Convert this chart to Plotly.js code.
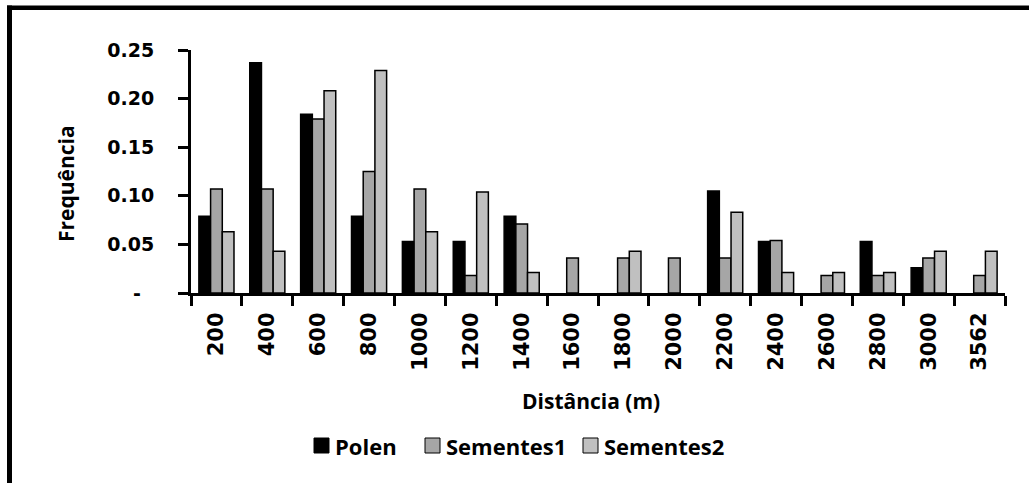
<!DOCTYPE html>
<html>
<head>
<meta charset="utf-8">
<script src="https://cdn.plot.ly/plotly-3.0.1.min.js"></script>
<style>
  html, body { margin: 0; padding: 0; background: #ffffff; }
  #chart { width: 1029px; height: 483px; }
</style>
</head>
<body>
<div id="chart"></div>
<script>
// Distance classes (m)
const categories = ['200', '400', '600', '800', '1000', '1200', '1400', '1600',
                    '1800', '2000', '2200', '2400', '2600', '2800', '3000', '3562'];

// Relative frequency per distance class
const polen      = [0.079, 0.237, 0.184, 0.079, 0.053, 0.053, 0.079, 0,
                    0, 0, 0.105, 0.053, 0, 0.053, 0.026, 0];
const sementes1  = [0.107, 0.107, 0.179, 0.125, 0.107, 0.018, 0.071, 0.036,
                    0.036, 0.036, 0.036, 0.054, 0.018, 0.018, 0.036, 0.018];
const sementes2  = [0.063, 0.043, 0.208, 0.229, 0.063, 0.104, 0.021, 0,
                    0.043, 0, 0.083, 0.021, 0.021, 0.021, 0.043, 0.043];

const seriesNames = ['Polen', 'Sementes1', 'Sementes2'];
const seriesColors = ['#000000', '#a6a6a6', '#c0c0c0'];

const yTickVals = [0, 0.05, 0.10, 0.15, 0.20, 0.25];
const yTickText = ['-\u00a0\u00a0', '0.05', '0.10', '0.15', '0.20', '0.25'];

// Figure geometry (pixels)
const W = 1029, H = 483;
const M = { l: 191, r: 24, t: 50, b: 190 };
const plotW = W - M.l - M.r;
const plotH = H - M.t - M.b;
const px = x => (x - M.l) / plotW;          // pixel x -> paper x
const py = y => (H - M.b - y) / plotH;      // pixel y -> paper y

const titleFont = { family: '"Open Sans", "DejaVu Sans", sans-serif', size: 21, color: '#000', weight: 'bold' };
const legendFont = { family: '"Open Sans", "DejaVu Sans", sans-serif', size: 22, color: '#000', weight: 'bold' };
const tickFontFamily = '"DejaVu Sans", Verdana, sans-serif';

const values = [polen, sementes1, sementes2];
const traces = values.map((v, i) => ({
  type: 'bar',
  name: seriesNames[i],
  x: categories,
  y: v,
  marker: {
    color: seriesColors[i],
    // empty classes get no outline so nothing shows on the axis
    line: { color: '#000', width: v.map(d => (d > 0 ? 1.5 : 0)) }
  },
  hoverinfo: 'x+y+name'
}));

// Legend drawn as boxed swatches with labels under the axis title
const legendBoxes = [314, 425, 583];
const legendText  = [333, 444, 602];
const legendY = 445.5, sw = 15;

const shapes = [
  // frame: top and left edges
  { type: 'line', xref: 'paper', yref: 'paper', x0: px(7), x1: px(1035), y0: py(7.75), y1: py(7.75),
    line: { color: '#000', width: 4.5 } },
  { type: 'line', xref: 'paper', yref: 'paper', x0: px(9.5), x1: px(9.5), y0: py(5.5), y1: py(490),
    line: { color: '#000', width: 5 } }
];
const annotations = [
  { text: 'Frequência', xref: 'paper', yref: 'paper', x: px(66), y: py(184),
    xanchor: 'center', yanchor: 'middle', textangle: -90, showarrow: false, font: titleFont },
  { text: 'Distância (m)', xref: 'paper', yref: 'paper', x: px(591), y: py(401),
    xanchor: 'center', yanchor: 'middle', showarrow: false, font: titleFont }
];
seriesNames.forEach((name, i) => {
  shapes.push({
    type: 'rect', xref: 'paper', yref: 'paper',
    x0: px(legendBoxes[i]), x1: px(legendBoxes[i] + sw),
    y0: py(legendY - sw / 2), y1: py(legendY + sw / 2),
    fillcolor: seriesColors[i], line: { color: '#000', width: 1 }
  });
  annotations.push({
    text: name, xref: 'paper', yref: 'paper', x: px(legendText[i]), y: py(legendY),
    xanchor: 'left', yanchor: 'middle', showarrow: false, font: legendFont
  });
});

const layout = {
  width: W, height: H,
  margin: { l: M.l, r: M.r, t: M.t, b: M.b, pad: 0 },
  paper_bgcolor: '#fff', plot_bgcolor: '#fff',
  showlegend: false,
  barmode: 'group',
  bargap: 0.31,
  bargroupgap: 0,
  xaxis: {
    type: 'category',
    showline: true, linecolor: '#000', linewidth: 3,
    ticks: 'outside', tickson: 'boundaries', ticklen: 10, tickwidth: 3, tickcolor: '#000',
    tickangle: -90, ticklabelstandoff: 8,
    tickfont: { family: tickFontFamily, size: 21, color: '#000', weight: 'bold' },
    showgrid: false, zeroline: false, automargin: false, fixedrange: true
  },
  yaxis: {
    range: [0, 0.25],
    tickvals: yTickVals, ticktext: yTickText,
    showline: true, linecolor: '#000', linewidth: 3,
    ticks: 'outside', ticklen: 10, tickwidth: 3, tickcolor: '#000',
    ticklabelstandoff: 20,
    tickfont: { family: tickFontFamily, size: 19, color: '#000', weight: 'bold' },
    showgrid: false, zeroline: false, automargin: false, fixedrange: true
  },
  shapes: shapes,
  annotations: annotations
};

Plotly.newPlot('chart', traces, layout, { displayModeBar: false, staticPlot: true });
</script>
</body>
</html>
